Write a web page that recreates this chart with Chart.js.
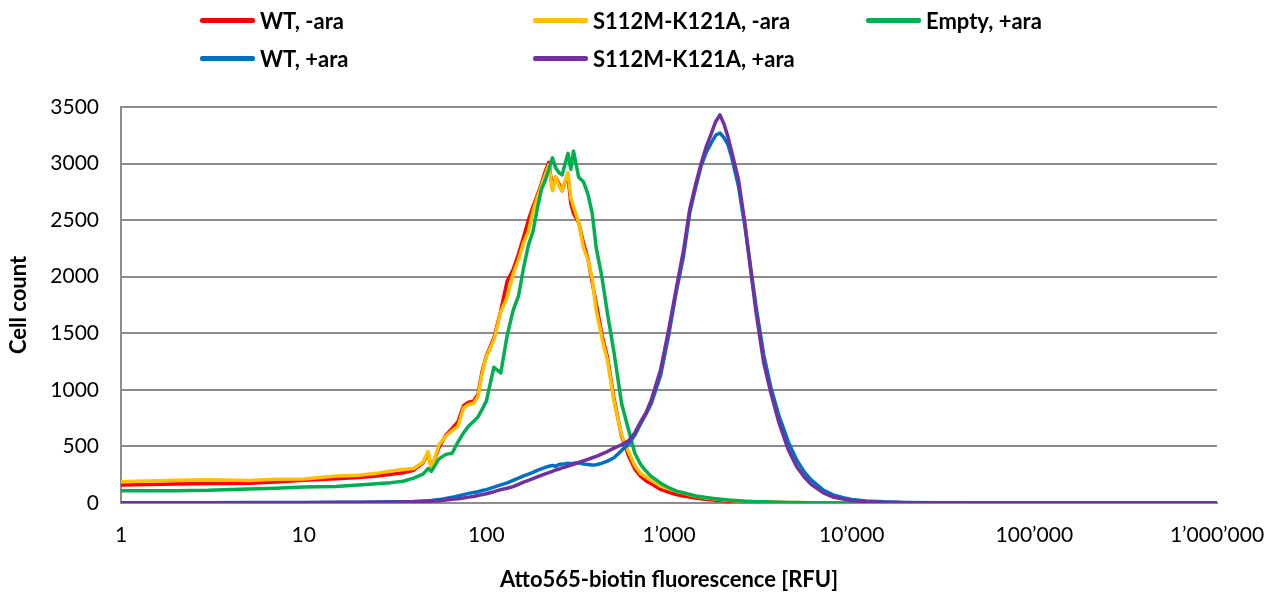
<!DOCTYPE html>
<html>
<head>
<meta charset="utf-8">
<title>Atto565-biotin fluorescence</title>
<script src="https://cdn.jsdelivr.net/npm/chart.js@4.4.1/dist/chart.umd.min.js"></script>
<style>
  html, body { margin: 0; padding: 0; background: #fff; }
  #wrap { position: relative; width: 1275px; height: 593px; overflow: hidden; }
  #c { position: absolute; left: 0; top: 0; }
  .key { position: absolute; display: flex; align-items: center; height: 26px;
         font: bold 22px Lato, "Liberation Sans", sans-serif; color: #000; white-space: nowrap; }
  .key i { display: inline-block; width: 55px; height: 5px; margin-right: 5px; border-radius: 2px; }
</style>
</head>
<body>
<div id="wrap">
  <canvas id="c" width="1275" height="593"></canvas>
  <div id="legend"></div>
</div>
<script>
// Fluorescence bins (RFU)
const rfu = [1, 2, 3, 5, 7, 10, 15, 20, 25, 30, 35, 40, 45, 48,
  50, 55, 60, 65, 70, 75, 80, 85, 90, 95,
  100, 110, 120, 130, 140, 150, 160, 170, 180, 190, 200, 210, 220, 230, 240, 250, 260, 270, 280, 290, 300,
  320, 340, 360, 380, 400, 430, 460,
  500, 550, 600, 650, 700, 750, 800, 900,
  1000, 1100, 1200, 1300, 1400, 1500, 1600, 1700, 1800, 1900, 2000, 2100, 2200,
  2400, 2600, 2800, 3000,
  3300, 3600, 4000, 4500, 5000, 5500, 6000,
  7000, 8000, 9000, 10000,
  12000, 15000, 20000, 30000, 50000, 100000, 300000, 1000000];

// Cell counts per bin
const wtMinusAra = [160, 168, 172, 175, 185,
  200, 215, 225, 238, 255, 268, 290, 355, 440,
  310, 490, 600, 660, 720, 860, 890, 900, 960, 1170,
  1300, 1460, 1700, 1960, 2060, 2200, 2350, 2500, 2620, 2720, 2820, 2930, 3010, 2780, 2880, 2820, 2760, 2840, 2880, 2650, 2560,
  2480, 2300, 2160, 1950, 1760, 1480, 1290,
  920, 590, 420, 300, 235, 195, 170, 120,
  95, 74, 62, 52, 44, 38, 33, 28, 24, 21, 18, 16, 14,
  11, 9, 8, 7,
  6, 5, 4, 3, 3, 2, 2,
  2, 1, 1, 1,
  0, 0, 0, 0, 0, 0, 0, 0];

const mutMinusAra = [188, 200, 206, 198, 210,
  212, 238, 246, 262, 282, 296, 305, 360, 455,
  300, 515, 590, 640, 680, 840, 870, 880, 940, 1150,
  1290, 1440, 1690, 1817, 2020, 2150, 2300, 2400, 2580, 2700, 2800, 2900, 2990, 2760, 2880, 2800, 2760, 2850, 2920, 2700, 2620,
  2480, 2260, 2150, 1980, 1700, 1450, 1265,
  900, 600, 455, 330, 260, 230, 200, 150,
  125, 103, 88, 72, 60, 52, 45, 40, 35, 31, 27, 24, 22,
  18, 15, 13, 11,
  9, 8, 7, 5, 4, 4, 3,
  3, 2, 2, 1,
  1, 1, 0, 0, 0, 0, 0, 0];

const emptyPlusAra = [109, 109, 112, 124, 130,
  141, 145, 160, 170, 180, 192, 220, 255, 305,
  280, 390, 430, 440, 540, 620, 680, 720, 760, 830,
  900, 1200, 1150, 1480, 1700, 1830, 2080, 2280, 2400, 2600, 2770, 2850, 2950, 3050, 2960, 2920, 2900, 3000, 3090, 2950, 3110,
  2880, 2840, 2730, 2560, 2250, 1990, 1680,
  1330, 880, 650, 440, 340, 280, 235, 175,
  135, 105, 90, 75, 62, 55, 48, 42, 37, 33, 30, 27, 25,
  20, 16, 14, 12,
  10, 9, 7, 5, 4, 3, 3,
  2, 2, 1, 1,
  1, 0, 0, 0, 0, 0, 0, 0];

const wtPlusAra = [3, 3, 3, 4, 4,
  5, 6, 7, 8, 10, 11, 13, 17, 20,
  22, 30, 40, 50, 62, 74, 85, 92, 100, 110,
  118, 140, 160, 178, 200, 220, 240, 255, 270, 288, 302, 315, 325, 332, 325, 340, 345, 348, 352, 348, 352,
  355, 345, 340, 335, 338, 352, 370,
  400, 465, 520, 600, 700, 790, 880, 1130,
  1500, 1880, 2180, 2570, 2790, 2980, 3100, 3180, 3250, 3270, 3230, 3170, 3060,
  2800, 2450, 2080, 1730,
  1310, 1030, 770, 540, 380, 275, 205,
  115, 68, 46, 32,
  18, 10, 5, 3, 1, 0, 0, 0];

const mutPlusAra = [2, 2, 2, 2, 3,
  3, 4, 5, 6, 7, 8, 10, 12, 14,
  16, 20, 26, 32, 38, 45, 52, 58, 66, 74,
  82, 100, 118, 130, 145, 165, 185, 200, 215, 230, 245, 258, 268, 280, 292, 300, 310, 318, 326, 334, 342,
  358, 372, 386, 400, 412, 435, 455,
  485, 515, 550, 620, 720, 800, 910, 1180,
  1545, 1910, 2230, 2600, 2820, 3000, 3150, 3260, 3370, 3430, 3350, 3240, 3110,
  2860, 2480, 2060, 1680,
  1240, 980, 710, 470, 320, 230, 165,
  90, 50, 35, 20,
  12, 6, 3, 2, 1, 0, 0, 0];

// Axis ticks
const xTickValues = [1, 10, 100, 1000, 10000, 100000, 1000000];
const yTickValues = [0, 500, 1000, 1500, 2000, 2500, 3000, 3500];

const seriesNames = ['WT, -ara', 'S112M-K121A, -ara', 'Empty, +ara', 'WT, +ara', 'S112M-K121A, +ara'];
const seriesValues = [wtMinusAra, mutMinusAra, emptyPlusAra, wtPlusAra, mutPlusAra];
const seriesColors = ['#FF0000', '#FFC000', '#00B050', '#0070C0', '#7030A0'];

// Legend slots: [left, centre-y]
const legendSlots = [[200, 20], [533, 20], [866, 20], [200, 58], [533, 58]];

const legend = document.getElementById('legend');
seriesNames.forEach((name, i) => {
  const el = document.createElement('div');
  el.className = 'key';
  el.style.left = legendSlots[i][0] + 'px';
  el.style.top = (legendSlots[i][1] - 13) + 'px';
  const sw = document.createElement('i');
  sw.style.background = seriesColors[i];
  el.appendChild(sw);
  el.appendChild(document.createTextNode(name));
  legend.appendChild(el);
});

// Swiss-style thousands separator
function fmtRfu(v) {
  return String(Math.round(v)).replace(/\B(?=(\d{3})+(?!\d))/g, '\u2019');
}

const gridGrey = '#8c8c8c';
const tickFont = { family: 'Lato, "Liberation Sans", sans-serif', size: 21 };
const titleFont = { family: 'Lato, "Liberation Sans", sans-serif', size: 22, weight: 'bold' };

const datasets = seriesNames.map((name, i) => ({
  label: name,
  data: rfu.map((x, k) => ({ x: x, y: seriesValues[i][k] })),
  borderColor: seriesColors[i],
  backgroundColor: seriesColors[i],
  borderWidth: 3.5,
  pointRadius: 0,
  tension: 0,
  fill: false,
  borderJoinStyle: 'round',
  borderCapStyle: 'round',
  order: seriesNames.length - i
}));

new Chart(document.getElementById('c'), {
  type: 'line',
  data: { datasets },
  options: {
    responsive: false,
    animation: false,
    devicePixelRatio: 1,
    layout: { padding: { left: 0, top: 107, right: 58, bottom: 0 } },
    plugins: { legend: { display: false }, tooltip: { enabled: false } },
    scales: {
      x: {
        type: 'logarithmic',
        min: 1,
        max: 1000000,
        afterBuildTicks: (scale) => { scale.ticks = xTickValues.map(v => ({ value: v })); },
        afterFit: (scale) => {
          scale.height = 90;
          scale.paddingLeft = 0;
          scale.paddingRight = 0;
        },
        grid: { display: false, drawTicks: false },
        border: { display: true, color: gridGrey, width: 2 },
        ticks: {
          color: '#000', font: tickFont, padding: 20, maxRotation: 0, autoSkip: false,
          callback: (v) => fmtRfu(v)
        },
        title: {
          display: true, text: 'Atto565-biotin fluorescence [RFU]',
          color: '#000', font: titleFont, padding: { top: 0, bottom: 0 }
        }
      },
      y: {
        min: 0,
        max: 3500,
        afterBuildTicks: (scale) => { scale.ticks = yTickValues.map(v => ({ value: v })); },
        afterFit: (scale) => {
          scale.width = 121;
          scale.paddingTop = 0;
          scale.paddingBottom = 0;
        },
        grid: { color: gridGrey, lineWidth: 2, drawTicks: false },
        border: { display: true, color: gridGrey, width: 2 },
        ticks: {
          color: '#000', font: tickFont, padding: 22,
          callback: (v) => String(v)
        },
        title: {
          display: true, text: 'Cell count',
          color: '#000', font: titleFont, padding: { top: 6, bottom: 0 }
        }
      }
    }
  }
});
</script>
</body>
</html>
